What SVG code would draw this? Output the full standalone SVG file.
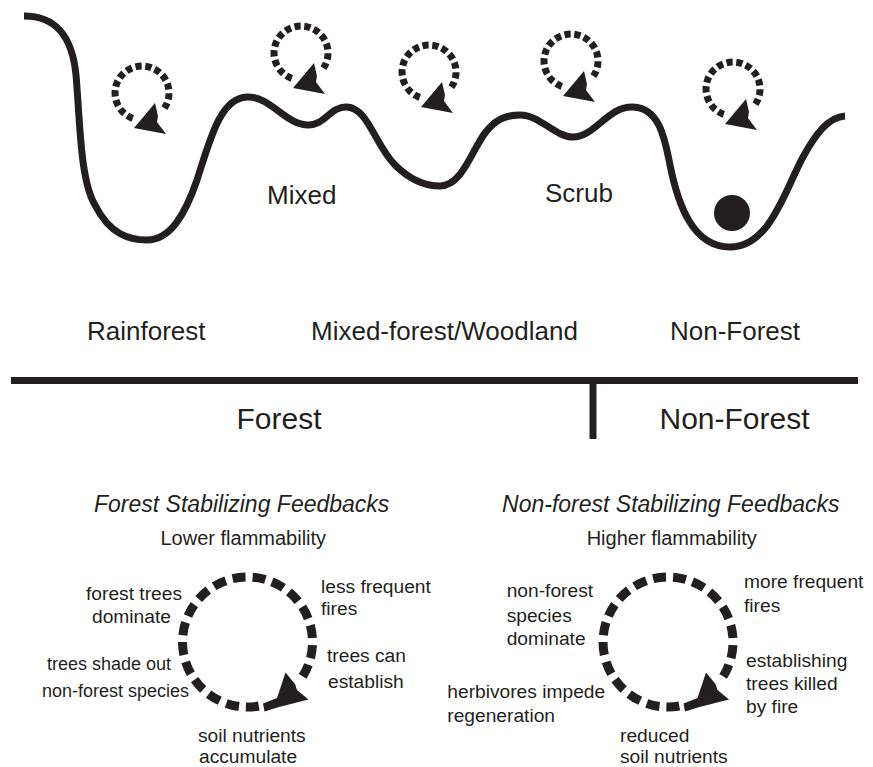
<svg xmlns="http://www.w3.org/2000/svg" width="873" height="767" viewBox="0 0 873 767">
<style>
.t{font-family:"Liberation Sans",Arial,sans-serif;fill:#231f20}
.big{font-size:26px}
.cat{font-size:30px}
.ttl{font-size:23px;font-style:italic}
.sub{font-size:20px}
.lbl{font-size:19.2px}
.sm{font-size:18px}
.land{fill:none;stroke:#231f20;stroke-width:7;stroke-linecap:butt}
.sd{fill:none;stroke:#231f20;stroke-width:7;stroke-dasharray:6.2 3.6}
.bd{fill:none;stroke:#231f20;stroke-width:9;stroke-dasharray:13 7}
.ah{fill:#231f20}
.rule{stroke:#231f20;stroke-width:7}
</style>
<defs>
<g id="smallLoop">
<path class="sd" d="M-9.2,25.4 A27,27 0 1 1 22.4,15.1"/>
<polygon class="ah" points="13,10 -8,35 24,41 15,29 16,23"/>
</g>
<g id="bigLoop">
<path class="bd" d="M11.3,64 A65,65 0 1 1 52.6,38.2"/>
<polygon class="ah" points="38,30.5 29.5,56 15.5,61.5 17,69.5 31.5,65 61,57.5 49.5,48 47.5,42"/>
</g>
</defs>
<g id="landscape">
<path class="land" d="M24,16 C55,16 72,35 76,75 C80,120 80,180 95,205 C110,235 130,240 147,240 C170,240 185,215 197,180 C210,140 220,98 247,97 C270,96 285,124 307,125 C325,126 330,106 347,107 C368,108 375,145 395,165 C410,180 425,186 440,186 C462,186 472,150 485,133 C495,120 505,115 520,115 C540,115 555,137 573,137 C595,137 608,106 633,107 C660,108 665,140 670,165 C678,205 693,247 730,247 C770,247 785,190 803,157 C815,135 828,117 845,116"/>
<circle cx="732" cy="213" r="18" fill="#231f20"/>
</g>
<g id="loops-top">
<use href="#smallLoop" x="142" y="93"/>
<use href="#smallLoop" x="301" y="53"/>
<use href="#smallLoop" x="429" y="72"/>
<use href="#smallLoop" x="571" y="61"/>
<use href="#smallLoop" x="733" y="89"/>
</g>
<g id="basin-labels">
<text class="t big" x="267" y="204">Mixed</text>
<text class="t big" x="545" y="202">Scrub</text>
<text class="t big" x="87" y="340">Rainforest</text>
<text class="t big" x="311" y="340">Mixed-forest/Woodland</text>
<text class="t big" x="670" y="340">Non-Forest</text>
</g>
<g id="divider">
<line class="rule" x1="11" y1="380.5" x2="858" y2="380.5"/>
<line class="rule" x1="593" y1="380.5" x2="593" y2="439"/>
<text class="t cat" x="279" y="429" text-anchor="middle">Forest</text>
<text class="t cat" x="734.5" y="429" text-anchor="middle">Non-Forest</text>
</g>
<g id="forest-feedbacks">
<text class="t ttl" x="241.7" y="512" text-anchor="middle">Forest Stabilizing Feedbacks</text>
<text class="t sub" x="243.3" y="545" text-anchor="middle">Lower flammability</text>
<use href="#bigLoop" x="247.5" y="642"/>
<text class="t lbl" x="86" y="600">forest trees</text>
<text class="t lbl" x="92" y="623">dominate</text>
<text class="t lbl" x="321" y="593">less frequent</text>
<text class="t lbl" x="321" y="615">fires</text>
<text class="t lbl" x="327" y="662">trees can</text>
<text class="t lbl" x="328" y="688">establish</text>
<text class="t sm" x="47" y="670">trees shade out</text>
<text class="t sm" x="42" y="697">non-forest species</text>
<text class="t lbl" x="198" y="742">soil nutrients</text>
<text class="t lbl" x="199" y="763">accumulate</text>
</g>
<g id="nonforest-feedbacks">
<text class="t ttl" x="670.8" y="512" text-anchor="middle">Non-forest Stabilizing Feedbacks</text>
<text class="t sub" x="671.7" y="545" text-anchor="middle">Higher flammability</text>
<use href="#bigLoop" x="668" y="642"/>
<text class="t lbl" x="506.7" y="597">non-forest</text>
<text class="t lbl" x="506.7" y="622">species</text>
<text class="t lbl" x="506.7" y="645">dominate</text>
<text class="t lbl" x="744" y="588">more frequent</text>
<text class="t lbl" x="744" y="612">fires</text>
<text class="t lbl" x="746" y="667">establishing</text>
<text class="t lbl" x="746" y="690">trees killed</text>
<text class="t lbl" x="746" y="713">by fire</text>
<text class="t lbl" x="447.3" y="698">herbivores impede</text>
<text class="t lbl" x="447.3" y="722">regeneration</text>
<text class="t lbl" x="620" y="742">reduced</text>
<text class="t lbl" x="620" y="763">soil nutrients</text>
</g>
</svg>
